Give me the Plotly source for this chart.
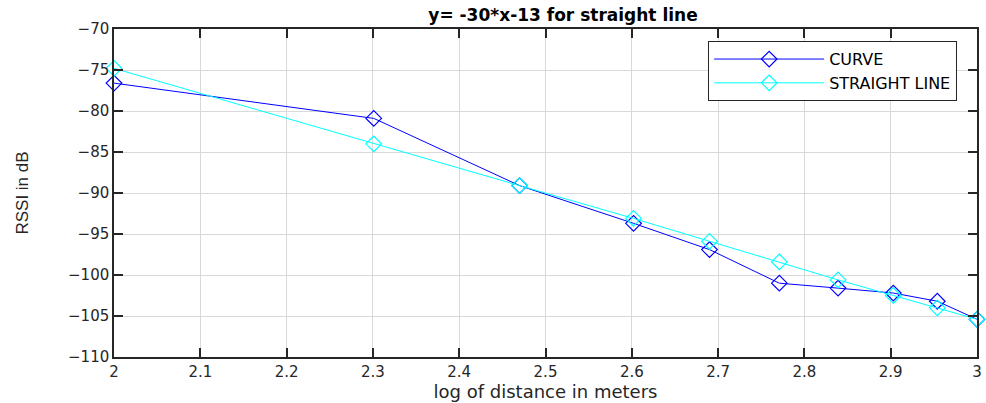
import plotly.graph_objects as go

log_distance = [2.0, 2.301, 2.47, 2.602, 2.69, 2.771, 2.839, 2.903, 2.954, 3.0]
rssi_curve = [-76.6, -80.9, -89.1, -93.7, -96.9, -101.0, -101.6, -102.2, -103.2, -105.4]
rssi_straight = [-74.8, -84.0, -89.1, -93.1, -95.9, -98.4, -100.6, -102.5, -104.0, -105.4]

x_ticks = [2.0, 2.1, 2.2, 2.3, 2.4, 2.5, 2.6, 2.7, 2.8, 2.9, 3.0]
x_ticktext = ["2", "2.1", "2.2", "2.3", "2.4", "2.5", "2.6", "2.7", "2.8", "2.9", "3"]
y_ticks = [-110, -105, -100, -95, -90, -85, -80, -75, -70]

WIDE = "DejaVu Sans, Verdana, sans-serif"
NARROW = "Liberation Sans, Arial, Helvetica, sans-serif"

fig = go.Figure()
fig.add_trace(go.Scatter(
    x=log_distance, y=rssi_curve, mode="lines+markers", name="CURVE",
    line=dict(color="#0000ff", width=1),
    marker=dict(symbol="diamond-open", size=12, color="#0000ff", line=dict(width=1.2)),
    cliponaxis=False,
))
fig.add_trace(go.Scatter(
    x=log_distance, y=rssi_straight, mode="lines+markers", name="STRAIGHT LINE",
    line=dict(color="#00ffff", width=1),
    marker=dict(symbol="diamond-open", size=12, color="#00ffff", line=dict(width=1.2)),
    cliponaxis=False,
))

axis_common = dict(
    showline=True, linecolor="#262626", linewidth=1.5, mirror="ticks",
    ticks="inside", ticklen=9, tickcolor="#262626", tickwidth=1.5,
    showgrid=True, gridcolor="#d9d9d9", gridwidth=1,
    zeroline=False,
    tickfont=dict(family=WIDE, size=15, color="#262626"),
)

fig.update_xaxes(
    range=[2, 3], tickvals=x_ticks, ticktext=x_ticktext,
    title=dict(text="log of distance in meters", font=dict(family=WIDE, size=18, color="#262626"), standoff=6),
    **axis_common,
)
fig.update_yaxes(
    range=[-110, -70], tickvals=y_ticks,
    title=dict(text="RSSI in dB", font=dict(family=NARROW, size=17, color="#262626"), standoff=35),
    **axis_common,
)

fig.update_layout(
    width=986, height=403,
    margin=dict(l=114, r=4, t=29, b=45),
    paper_bgcolor="white", plot_bgcolor="white",
    title=dict(text="<b>y= -30*x-13 for straight line</b>", x=0.571, xanchor="center",
               y=0.963, yanchor="middle", font=dict(family=WIDE, size=17, color="#000000")),
    legend=dict(
        x=0.977, xanchor="right", y=0.963, yanchor="top",
        bgcolor="white", bordercolor="#262626", borderwidth=1,
        font=dict(family=WIDE, size=16, color="#000000"),
        itemwidth=110, tracegroupgap=0,
    ),
    showlegend=True,
)

fig.write_html("out.html")
